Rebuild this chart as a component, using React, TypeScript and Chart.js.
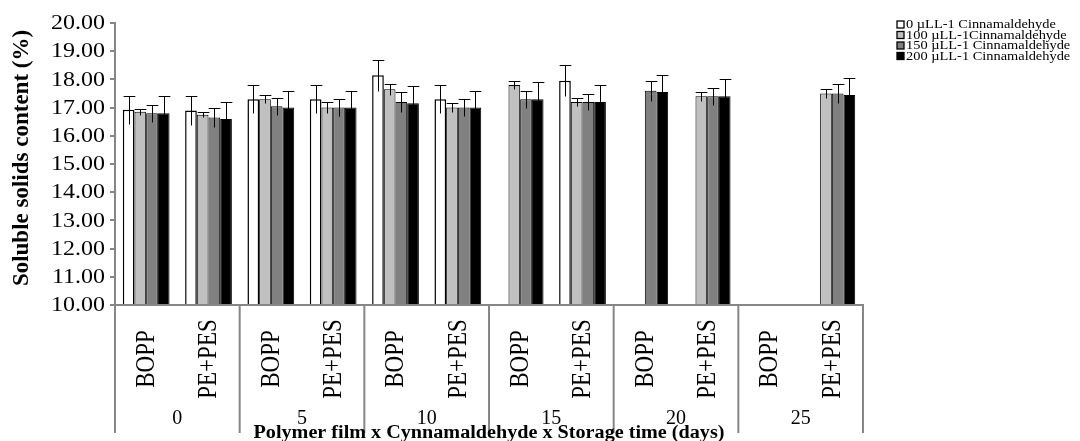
import React, { useEffect, useRef } from "react";
import { Chart, registerables } from "chart.js";

Chart.register(...registerables);

const films = ["BOPP", "PE+PES"];
const days = ["0", "5", "10", "15", "20", "25"];
const seriesLabels = [
  "0 µLL-1 Cinnamaldehyde",
  "100 µLL-1Cinnamaldehyde",
  "150 µLL-1 Cinnamaldehyde",
  "200 µLL-1 Cinnamaldehyde",
];
const seriesColors = ["#FFFFFF", "#C0C0C0", "#808080", "#000000"];

const s0 = [16.92, 16.9, 17.3, 17.3, 18.15, 17.3, null, 17.95, null, null, null, null];
const s1 = [16.85, 16.75, 17.3, 17.0, 17.65, 17.0, 17.8, 17.2, null, 17.4, null, 17.5];
const s2 = [16.8, 16.65, 17.05, 17.0, 17.2, 17.0, 17.3, 17.2, 17.6, 17.4, null, 17.5];
const s3 = [16.8, 16.6, 17.0, 17.0, 17.15, 17.0, 17.3, 17.2, 17.55, 17.4, null, 17.45];

const e0 = [0.5, 0.5, 0.5, 0.5, 0.55, 0.5, null, 0.55, null, null, null, null];
const e1 = [0.1, 0.1, 0.15, 0.2, 0.2, 0.15, 0.15, 0.15, null, 0.15, null, 0.15];
const e2 = [0.3, 0.35, 0.3, 0.3, 0.35, 0.3, 0.3, 0.3, 0.35, 0.3, null, 0.35];
const e3 = [0.6, 0.6, 0.6, 0.6, 0.6, 0.6, 0.6, 0.6, 0.6, 0.6, null, 0.6];

const yMin = 10;
const yMax = 20;
const yStep = 1;
const yTitle = "Soluble solids content (%)";
const xTitle = "Polymer film x Cynnamaldehyde x Storage time (days)";

const categories: string[] = [];
days.forEach(() => films.forEach((f) => categories.push(f)));

const values = [s0, s1, s2, s3];
const errors = [e0, e1, e2, e3];

const SERIF = "'Liberation Serif', 'Times New Roman', serif";

function stretchedText(ctx: any, text: string, x: number, y: number, sx: number, rotate = false) {
  ctx.save();
  ctx.translate(x, y);
  ctx.scale(sx, 1);
  if (rotate) ctx.rotate(-Math.PI / 2);
  ctx.fillText(text, 0, 0);
  ctx.restore();
}

const customPlugin = {
  id: "custom",
  afterDatasetsDraw(chart: any) {
    const ctx = chart.ctx;
    const y = chart.scales.y;
    ctx.save();
    ctx.strokeStyle = "#000";
    ctx.lineWidth = 1;
    chart.data.datasets.forEach((ds: any, di: number) => {
      const meta = chart.getDatasetMeta(di);
      meta.data.forEach((el: any, i: number) => {
        const v = ds.data[i];
        const e = errors[di][i];
        if (v == null || e == null) return;
        const x = Math.round(el.x) + 0.5;
        const yt = Math.round(y.getPixelForValue(v + e)) + 0.5;
        const yb = Math.round(y.getPixelForValue(v - e)) + 0.5;
        const hw = el.width * 0.5;
        ctx.beginPath();
        ctx.moveTo(x, yt);
        ctx.lineTo(x, yb);
        ctx.moveTo(x - hw, yt);
        ctx.lineTo(x + hw, yt);
        ctx.stroke();
      });
    });
    ctx.restore();
  },
  afterDraw(chart: any) {
    const ctx = chart.ctx;
    const area = chart.chartArea;
    const xs = chart.scales.x;
    const ys = chart.scales.y;
    ctx.save();
    ctx.fillStyle = "#000";
    // y tick labels
    ctx.font = `20px ${SERIF}`;
    ctx.textAlign = "right";
    ctx.textBaseline = "middle";
    for (let v = yMin; v <= yMax; v += yStep) {
      stretchedText(ctx, v.toFixed(2), area.left - 10, ys.getPixelForValue(v) + 1, 1.2);
    }
    // y title
    ctx.font = `bold 23px ${SERIF}`;
    ctx.textAlign = "center";
    stretchedText(ctx, yTitle, 14, (area.top + area.bottom) / 2 - 6, 1.0, true);

    // axis line
    ctx.strokeStyle = "#868686";
    ctx.lineWidth = 2;
    ctx.beginPath();
    ctx.moveTo(area.left - 1, area.bottom);
    ctx.lineTo(area.right + 1, area.bottom);
    ctx.stroke();
    const catW = (area.right - area.left) / categories.length;
    // separators
    for (let d = 0; d <= days.length; d++) {
      const x = area.left + d * catW * films.length;
      ctx.beginPath();
      ctx.moveTo(x, area.bottom);
      ctx.lineTo(x, area.bottom + 128);
      ctx.stroke();
    }
    // film labels
    ctx.font = `23px ${SERIF}`;
    ctx.textAlign = "center";
    ctx.textBaseline = "middle";
    categories.forEach((c, i) => {
      const x = xs.getPixelForValue(i);
      stretchedText(ctx, c, x + 1, area.bottom + 54, 1.15, true);
    });
    // day labels
    ctx.font = `20px ${SERIF}`;
    days.forEach((d, i) => {
      const x = area.left + (i + 0.5) * catW * films.length;
      ctx.fillText(d, x, area.bottom + 114);
    });
    // x title
    ctx.font = `bold 18px ${SERIF}`;
    stretchedText(ctx, xTitle, (area.left + area.right) / 2, area.bottom + 128, 1.12);
    // legend
    ctx.font = `12px ${SERIF}`;
    ctx.textAlign = "left";
    ctx.textBaseline = "middle";
    seriesLabels.forEach((lab, i) => {
      const ly = 16.5 + i * 10.5;
      const lx = 889;
      ctx.fillStyle = seriesColors[i];
      ctx.fillRect(lx, ly - 3.5, 7, 7);
      ctx.strokeStyle = "#000";
      ctx.lineWidth = 1.3;
      ctx.strokeRect(lx, ly - 3.5, 7, 7);
      ctx.fillStyle = "#000";
      stretchedText(ctx, lab, lx + 9, ly + 0.5, 1.2);
    });
    ctx.restore();
  },
};

export default function App() {
  const ref = useRef<HTMLCanvasElement | null>(null);
  useEffect(() => {
    if (!ref.current) return;
    const chart = new Chart(ref.current, {
      type: "bar",
      data: {
        labels: categories,
        datasets: values.map((v, i) => ({
          label: seriesLabels[i],
          data: v,
          backgroundColor: seriesColors[i],
          borderColor: "#000000",
          borderWidth: i === 0 ? 1.5 : 1,
          categoryPercentage: 0.75,
          barPercentage: 1.0,
        })),
      },
      options: {
        animation: false,
        responsive: true,
        maintainAspectRatio: false,
        layout: { padding: { left: 0, right: 209, top: 15, bottom: 136 } },
        plugins: { legend: { display: false }, tooltip: { enabled: false } },
        scales: {
          x: { display: false },
          y: {
            min: yMin,
            max: yMax,
            ticks: { stepSize: yStep, display: false },
            grid: {
              drawOnChartArea: false,
              drawTicks: true,
              tickLength: 5,
              color: "#868686",
              lineWidth: 2,
            },
            border: { color: "#868686", width: 2 },
            title: { display: false },
            afterFit: (s: any) => {
              s.width = 107;
            },
          },
        },
      },
      plugins: [customPlugin],
    });
    return () => chart.destroy();
  }, []);
  return (
    <div style={{ position: "relative", width: 1064, height: 433 }}>
      <canvas ref={ref} />
    </div>
  );
}
